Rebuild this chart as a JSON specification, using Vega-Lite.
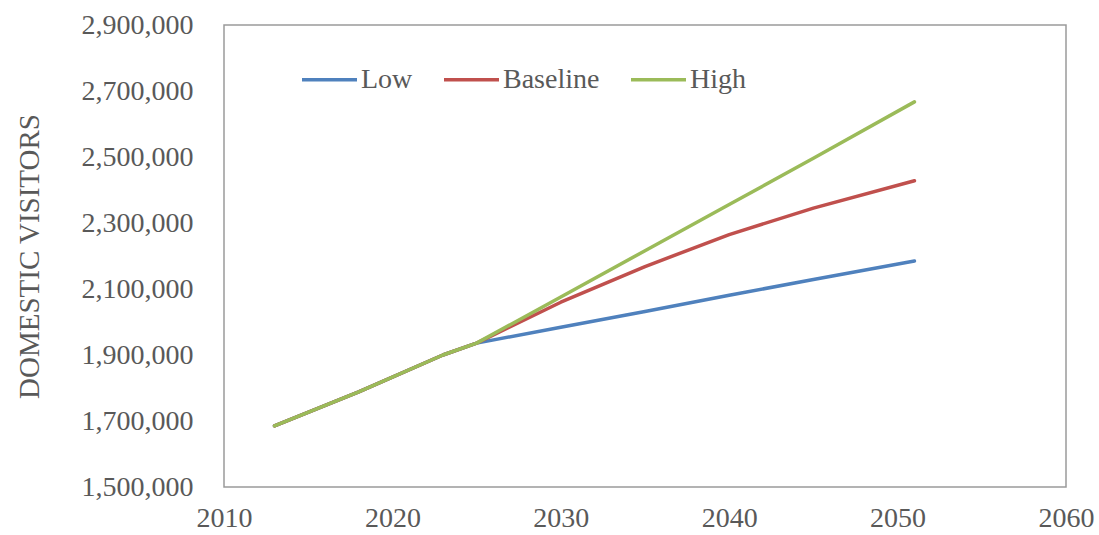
{
  "$schema": "https://vega.github.io/schema/vega-lite/v6.json",
  "autosize": {"type": "none"},
  "padding": {"left": 224, "top": 25, "right": 33, "bottom": 48},
  "width": 842,
  "height": 462,
  "background": "white",
  "config": {
    "view": {"stroke": "#9a9a9a", "strokeWidth": 1.5},
    "font": "Liberation Serif"
  },
  "data": {
    "values": [
      {"year": 2013, "scenario": "Low", "visitors": 1685000},
      {"year": 2018, "scenario": "Low", "visitors": 1788000},
      {"year": 2023, "scenario": "Low", "visitors": 1900000},
      {"year": 2025, "scenario": "Low", "visitors": 1936000},
      {"year": 2030, "scenario": "Low", "visitors": 1984000},
      {"year": 2035, "scenario": "Low", "visitors": 2032000},
      {"year": 2040, "scenario": "Low", "visitors": 2081000},
      {"year": 2045, "scenario": "Low", "visitors": 2129000},
      {"year": 2051, "scenario": "Low", "visitors": 2185000},
      {"year": 2013, "scenario": "Baseline", "visitors": 1685000},
      {"year": 2018, "scenario": "Baseline", "visitors": 1788000},
      {"year": 2023, "scenario": "Baseline", "visitors": 1900000},
      {"year": 2025, "scenario": "Baseline", "visitors": 1936000},
      {"year": 2030, "scenario": "Baseline", "visitors": 2060000},
      {"year": 2035, "scenario": "Baseline", "visitors": 2168000},
      {"year": 2040, "scenario": "Baseline", "visitors": 2265000},
      {"year": 2045, "scenario": "Baseline", "visitors": 2345000},
      {"year": 2051, "scenario": "Baseline", "visitors": 2428000},
      {"year": 2013, "scenario": "High", "visitors": 1685000},
      {"year": 2018, "scenario": "High", "visitors": 1788000},
      {"year": 2023, "scenario": "High", "visitors": 1900000},
      {"year": 2025, "scenario": "High", "visitors": 1936000},
      {"year": 2030, "scenario": "High", "visitors": 2076000},
      {"year": 2035, "scenario": "High", "visitors": 2216000},
      {"year": 2040, "scenario": "High", "visitors": 2356000},
      {"year": 2045, "scenario": "High", "visitors": 2496000},
      {"year": 2051, "scenario": "High", "visitors": 2667000}
    ]
  },
  "mark": {"type": "line", "strokeWidth": 3.5, "strokeCap": "round", "strokeJoin": "round"},
  "encoding": {
    "x": {
      "field": "year", "type": "quantitative",
      "scale": {"domain": [2010, 2060], "nice": false, "zero": false},
      "axis": {
        "values": [2010, 2020, 2030, 2040, 2050, 2060], "format": "d",
        "title": null, "grid": false, "ticks": false, "domain": false,
        "labelFont": "Liberation Serif", "labelFontSize": 28, "labelColor": "#595959",
        "labelPadding": 17, "labelFlush": false, "labelOverlap": false
      }
    },
    "y": {
      "field": "visitors", "type": "quantitative",
      "scale": {"domain": [1500000, 2900000], "nice": false, "zero": false},
      "axis": {
        "values": [1500000, 1700000, 1900000, 2100000, 2300000, 2500000, 2700000, 2900000],
        "format": ",d",
        "title": "DOMESTIC VISITORS", "titleFont": "Liberation Serif", "titleFontSize": 29,
        "titleFontWeight": "normal", "titleColor": "#595959", "titlePadding": 37,
        "grid": false, "ticks": false, "domain": false,
        "labelFont": "Liberation Serif", "labelFontSize": 28, "labelColor": "#595959",
        "labelPadding": 31, "labelFlush": false, "labelOverlap": false
      }
    },
    "color": {
      "field": "scenario", "type": "nominal",
      "scale": {"domain": ["Low", "Baseline", "High"], "range": ["#4F81BD", "#C0504D", "#9BBB59"]},
      "legend": {
        "title": null, "orient": "none", "direction": "horizontal",
        "legendX": 76, "legendY": 25,
        "symbolType": "stroke", "symbolSize": 3025, "symbolStrokeWidth": 3.5,
        "labelFont": "Liberation Serif", "labelFontSize": 28, "labelColor": "#595959",
        "labelOffset": 2, "columnPadding": 24, "padding": 0
      }
    },
    "order": {"field": "scenario", "type": "nominal"}
  }
}
